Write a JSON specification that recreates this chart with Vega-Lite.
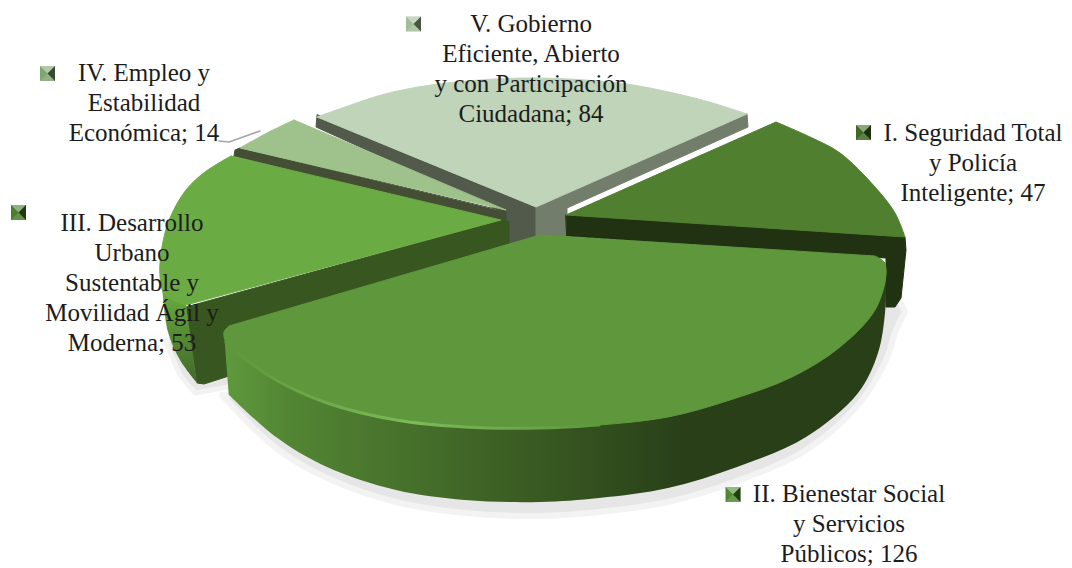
{
"$schema":"https://vega.github.io/schema/vega-lite/v6.json",
"width":1072,"height":568,"padding":0,
"autosize":{"type":"fit","contains":"padding"},
"background":"#ffffff",
"view":{"stroke":null},
"config":{"line":{"strokeJoin":"round","strokeCap":"round"}},
"datasets":{
"slices":[
{"name":"I. Seguridad Total y Policía Inteligente","value":47,"label":"I. Seguridad Total\ny Policía\nInteligente; 47","x":437,"y":143,"kx":327.5,"ky":151.5,"key":"I"},
{"name":"II. Bienestar Social y Servicios Públicos","value":126,"label":"II. Bienestar Social\ny Servicios\nPúblicos; 126","x":313,"y":-218,"kx":197,"ky":-210.5,"key":"II"},
{"name":"III. Desarrollo Urbano Sustentable y Movilidad Ágil y Moderna","value":53,"label":"III. Desarrollo\nUrbano\nSustentable y\nMovilidad Ágil y\nModerna; 53","x":-404,"y":53,"kx":-517.5,"ky":71.5,"key":"III"},
{"name":"IV. Empleo y Estabilidad Económica","value":14,"label":"IV. Empleo y\nEstabilidad\nEconómica; 14","x":-392,"y":203,"kx":-488.5,"ky":210.5,"key":"IV"},
{"name":"V. Gobierno Eficiente, Abierto y con Participación Ciudadana","value":84,"label":"V. Gobierno\nEficiente, Abierto\ny con Participación\nCiudadana; 84","x":-5,"y":252,"kx":-122.5,"ky":260,"key":"V"}
],
"outline":[
{"p":"S1","x":-314,"y":-111},{"p":"S1","x":-314,"y":-111},{"p":"S1","x":-260,"y":-164},{"p":"S1","x":-209,"y":-194},{"p":"S1","x":-140,"y":-218},{"p":"S1","x":-71,"y":-229},{"p":"S1","x":4,"y":-232},{"p":"S1","x":63,"y":-228},{"p":"S1","x":132,"y":-218},{"p":"S1","x":201,"y":-197},{"p":"S1","x":270,"y":-166},{"p":"S1","x":322,"y":-121},{"p":"S1","x":350,"y":-76},{"p":"S1","x":360,"y":-46},{"p":"S1","x":369,"y":-28},{"p":"S1","x":369,"y":-28},{"p":"S1","x":344,"y":24},{"p":"S1","x":344,"y":24},{"p":"S1","x":4,"y":-116},{"p":"S1","x":4,"y":-116},
{"p":"S2","x":-371,"y":-56},{"p":"S2","x":-356,"y":-91},{"p":"S2","x":-341,"y":-109},{"p":"S2","x":-296,"y":-101},{"p":"S2","x":-306,"y":-56},
{"p":"VL","x":-219,"y":169},{"p":"VL","x":-220,"y":157},{"p":"VL","x":-31,"y":71},{"p":"VL","x":-29,"y":39},{"p":"VL","x":0,"y":39},{"p":"VL","x":0,"y":77},
{"p":"VR","x":211,"y":170},{"p":"VR","x":212,"y":157},{"p":"VR","x":31,"y":76},{"p":"VR","x":31,"y":44},{"p":"VR","x":0,"y":39},{"p":"VR","x":0,"y":77},
{"p":"V","x":-219,"y":167},{"p":"V","x":-219,"y":167},{"p":"V","x":-191,"y":177},{"p":"V","x":-151,"y":190},{"p":"V","x":-105,"y":199},{"p":"V","x":-56,"y":204},{"p":"V","x":-6,"y":206},{"p":"V","x":49,"y":204},{"p":"V","x":97,"y":199},{"p":"V","x":166,"y":184},{"p":"V","x":211,"y":170},{"p":"V","x":211,"y":170},{"p":"V","x":0,"y":77},{"p":"V","x":0,"y":77},
{"p":"IVb","x":-296,"y":136},{"p":"IVb","x":-301,"y":134},{"p":"IVb","x":-302,"y":128},{"p":"IVb","x":-30,"y":59},{"p":"IVb","x":-30,"y":72},
{"p":"IV","x":-242,"y":164},{"p":"IV","x":-242,"y":164},{"p":"IV","x":-269,"y":151},{"p":"IV","x":-296,"y":136},{"p":"IV","x":-296,"y":136},{"p":"IV","x":-30,"y":74},{"p":"IV","x":-30,"y":74},
{"p":"IIIb","x":-35,"y":64},{"p":"IIIb","x":-350,"y":-23},{"p":"IIIb","x":-339,"y":-99},{"p":"IIIb","x":-332,"y":-100},{"p":"IIIb","x":-304,"y":-91},{"p":"IIIb","x":-27,"y":39},{"p":"IIIb","x":-27,"y":62},
{"p":"IIIr","x":-374,"y":-1},{"p":"IIIr","x":-374,"y":-1},{"p":"IIIr","x":-350,"y":-21},{"p":"IIIr","x":-350,"y":-21},{"p":"IIIr","x":-339,"y":-99},{"p":"IIIr","x":-339,"y":-99},{"p":"IIIr","x":-356,"y":-76},{"p":"IIIr","x":-368,"y":-48},
{"p":"III","x":-305,"y":128},{"p":"III","x":-305,"y":128},{"p":"III","x":-331,"y":112},{"p":"III","x":-350,"y":94},{"p":"III","x":-366,"y":66},{"p":"III","x":-374,"y":37},{"p":"III","x":-376,"y":8},{"p":"III","x":-371,"y":-11},{"p":"III","x":-350,"y":-21},{"p":"III","x":-350,"y":-21},{"p":"III","x":-35,"y":64},{"p":"III","x":-35,"y":64},
{"p":"Ib","x":30,"y":69},{"p":"Ib","x":369,"y":47},{"p":"Ib","x":370,"y":34},{"p":"Ib","x":365,"y":-14},{"p":"Ib","x":359,"y":-23},{"p":"Ib","x":350,"y":-23},{"p":"Ib","x":350,"y":26},{"p":"Ib","x":31,"y":48},
{"p":"I","x":30,"y":69},{"p":"I","x":30,"y":69},{"p":"I","x":240,"y":162},{"p":"I","x":240,"y":162},{"p":"I","x":274,"y":147},{"p":"I","x":304,"y":131},{"p":"I","x":339,"y":97},{"p":"I","x":359,"y":71},{"p":"I","x":369,"y":47},{"p":"I","x":369,"y":47},
{"p":"IIs","x":-312,"y":-48},{"p":"IIs","x":-312,"y":-48},{"p":"IIs","x":-307,"y":-111},{"p":"IIs","x":-307,"y":-111},{"p":"IIs","x":-260,"y":-153},{"p":"IIs","x":-209,"y":-183},{"p":"IIs","x":-140,"y":-206},{"p":"IIs","x":-71,"y":-216},{"p":"IIs","x":4,"y":-218},{"p":"IIs","x":63,"y":-214},{"p":"IIs","x":132,"y":-204},{"p":"IIs","x":201,"y":-183},{"p":"IIs","x":270,"y":-153},{"p":"IIs","x":322,"y":-109},{"p":"IIs","x":342,"y":-69},{"p":"IIs","x":349,"y":-29},{"p":"IIs","x":350,"y":-1},{"p":"IIs","x":349,"y":22},{"p":"IIs","x":349,"y":22},{"p":"IIs","x":4,"y":-16},{"p":"IIs","x":4,"y":-16},
{"p":"II","x":4,"y":49},{"p":"II","x":4,"y":49},{"p":"II","x":339,"y":28},{"p":"II","x":339,"y":28},{"p":"II","x":348,"y":22},{"p":"II","x":350,"y":9},{"p":"II","x":339,"y":-26},{"p":"II","x":304,"y":-63},{"p":"II","x":256,"y":-93},{"p":"II","x":194,"y":-116},{"p":"II","x":132,"y":-133},{"p":"II","x":63,"y":-141},{"p":"II","x":4,"y":-144},{"p":"II","x":-71,"y":-143},{"p":"II","x":-140,"y":-136},{"p":"II","x":-209,"y":-119},{"p":"II","x":-260,"y":-96},{"p":"II","x":-296,"y":-71},{"p":"II","x":-310,"y":-58},{"p":"II","x":-312,"y":-48},{"p":"II","x":-307,"y":-42},{"p":"II","x":-307,"y":-42},
{"p":"rim","x":-310,"y":-58},{"p":"rim","x":-296,"y":-71},{"p":"rim","x":-260,"y":-96},{"p":"rim","x":-209,"y":-119},{"p":"rim","x":-140,"y":-136},{"p":"rim","x":-71,"y":-143},{"p":"rim","x":4,"y":-144},{"p":"rim","x":63,"y":-141},
{"p":"lead","x":-317,"y":143},{"p":"lead","x":-307,"y":142},{"p":"lead","x":-276,"y":153}
]},
"encoding":{
"x":{"field":"x","type":"quantitative","axis":null,"scale":{"domain":[-536,536],"nice":false,"zero":false}},
"y":{"field":"y","type":"quantitative","axis":null,"scale":{"domain":[-284,284],"nice":false,"zero":false}}
},
"layer":[
{"data":{"name":"outline"},"transform":[{"filter":"datum.p==='S1'"}],"mark":{"type":"line","interpolate":"catmull-rom-closed","fill":"#e6e6e6","stroke":"#f3f3f3","strokeWidth":6},"encoding":{"order":{"value":null}}},
{"data":{"name":"outline"},"transform":[{"filter":"datum.p==='S2'"}],"mark":{"type":"line","interpolate":"linear-closed","fill":"#e6e6e6","stroke":"#f3f3f3","strokeWidth":5},"encoding":{"order":{"value":null}}},
{"data":{"name":"outline"},"transform":[{"filter":"datum.p==='VL'"}],"mark":{"type":"line","interpolate":"linear-closed","fill":"#525a4c","stroke":"#525a4c","strokeWidth":1},"encoding":{"order":{"value":null}}},
{"data":{"name":"outline"},"transform":[{"filter":"datum.p==='VR'"}],"mark":{"type":"line","interpolate":"linear-closed","fill":"#727e6b","stroke":"#727e6b","strokeWidth":1},"encoding":{"order":{"value":null}}},
{"data":{"name":"outline"},"transform":[{"filter":"datum.p==='V'"}],"mark":{"type":"line","interpolate":"catmull-rom-closed","fill":"#bfd4b8","stroke":"#bfd4b8","strokeWidth":1},"encoding":{"order":{"value":null}}},
{"data":{"name":"outline"},"transform":[{"filter":"datum.p==='IVb'"}],"mark":{"type":"line","interpolate":"linear-closed","fill":"#434e34","stroke":"#434e34","strokeWidth":1},"encoding":{"order":{"value":null}}},
{"data":{"name":"outline"},"transform":[{"filter":"datum.p==='IV'"}],"mark":{"type":"line","interpolate":"catmull-rom-closed","fill":"#9fc18c","stroke":"#9fc18c","strokeWidth":1},"encoding":{"order":{"value":null}}},
{"data":{"name":"outline"},"transform":[{"filter":"datum.p==='IIIb'"}],"mark":{"type":"line","interpolate":"linear-closed","fill":"#38561f","stroke":"#38561f","strokeWidth":1},"encoding":{"order":{"value":null}}},
{"data":{"name":"outline"},"transform":[{"filter":"datum.p==='IIIr'"}],"mark":{"type":"line","interpolate":"catmull-rom-closed","fill":{"gradient":"linear","x1":0,"y1":0,"x2":0,"y2":1,"stops":[{"offset":0,"color":"#6cb040"},{"offset":1,"color":"#41682a"}]},"stroke":null},"encoding":{"order":{"value":null}}},
{"data":{"name":"outline"},"transform":[{"filter":"datum.p==='III'"}],"mark":{"type":"line","interpolate":"catmull-rom-closed","fill":"#6bab44","stroke":"#6bab44","strokeWidth":1},"encoding":{"order":{"value":null}}},
{"data":{"name":"outline"},"transform":[{"filter":"datum.p==='Ib'"}],"mark":{"type":"line","interpolate":"linear-closed","fill":"#203211","stroke":"#203211","strokeWidth":1},"encoding":{"order":{"value":null}}},
{"data":{"name":"outline"},"transform":[{"filter":"datum.p==='I'"}],"mark":{"type":"line","interpolate":"catmull-rom-closed","fill":"#507f30","stroke":"#507f30","strokeWidth":1},"encoding":{"order":{"value":null}}},
{"data":{"name":"outline"},"transform":[{"filter":"datum.p==='IIs'"}],"mark":{"type":"line","interpolate":"catmull-rom-closed","fill":{"gradient":"linear","x1":0,"y1":0,"x2":1,"y2":0,"stops":[{"offset":0,"color":"#5f9a3c"},{"offset":0.1,"color":"#528533"},{"offset":0.47,"color":"#395a22"},{"offset":0.7,"color":"#283f18"},{"offset":1,"color":"#283f18"}]},"stroke":null},"encoding":{"order":{"value":null}}},
{"data":{"name":"outline"},"transform":[{"filter":"datum.p==='II'"}],"mark":{"type":"line","interpolate":"catmull-rom-closed","fill":"#5f973c","stroke":"#5f973c","strokeWidth":1},"encoding":{"order":{"value":null}}},
{"data":{"name":"outline"},"transform":[{"filter":"datum.p==='rim'"}],"mark":{"type":"line","interpolate":"catmull-rom","strokeWidth":3,"stroke":{"gradient":"linear","x1":0,"y1":0,"x2":1,"y2":0,"stops":[{"offset":0,"color":"#5f973c"},{"offset":0.5,"color":"#7cbb58"},{"offset":1,"color":"#5f973c"}]}},"encoding":{"order":{"value":null}}},
{"data":{"name":"outline"},"transform":[{"filter":"datum.p==='lead'"}],"mark":{"type":"line","stroke":"#a6a6a6","strokeWidth":1.5},"encoding":{"order":{"value":null}}},
{"data":{"name":"slices"},"mark":{"type":"text","font":"Liberation Serif","fontSize":25,"lineHeight":30,"lineBreak":"\n","align":"center","baseline":"alphabetic","color":"#1c1c1c"},"encoding":{"text":{"field":"label"}}},
{"data":{"name":"slices"},"mark":{"type":"point","filled":true,"shape":"square","size":225,"opacity":1},"encoding":{"x":{"field":"kx","type":"quantitative"},"y":{"field":"ky","type":"quantitative"},"color":{"field":"key","type":"nominal","legend":null,"scale":{"domain":["I","II","III","IV","V"],"range":["#3f6a25","#4f8a30","#4a7d2c","#7fa570","#a3bd98"]}}}},
{"data":{"name":"slices"},"mark":{"type":"point","filled":true,"shape":"M-1,-1L1,-1L0,0Z","size":225,"color":"#ffffff","opacity":0.4},"encoding":{"x":{"field":"kx","type":"quantitative"},"y":{"field":"ky","type":"quantitative"}}},
{"data":{"name":"slices"},"mark":{"type":"point","filled":true,"shape":"M1,-1L1,1L0,0Z","size":225,"color":"#000000","opacity":0.55},"encoding":{"x":{"field":"kx","type":"quantitative"},"y":{"field":"ky","type":"quantitative"}}},
{"data":{"name":"slices"},"mark":{"type":"point","filled":true,"shape":"M-1,1L1,1L0,0Z","size":225,"color":"#ffffff","opacity":0.15},"encoding":{"x":{"field":"kx","type":"quantitative"},"y":{"field":"ky","type":"quantitative"}}}
]
}
